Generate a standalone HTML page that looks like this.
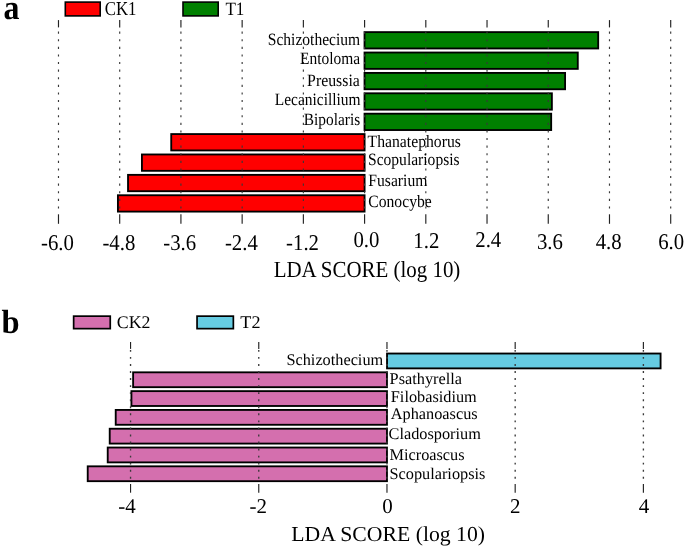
<!DOCTYPE html>
<html><head><meta charset="utf-8"><title>LDA score</title>
<style>
html,body{margin:0;padding:0;background:#fff;}
body{width:685px;height:547px;overflow:hidden;}
svg{display:block;font-family:"Liberation Serif",serif;will-change:transform;text-rendering:geometricPrecision;}
text{font-kerning:normal;}
</style></head><body>
<svg width="685" height="547" viewBox="0 0 685 547">
<rect x="0" y="0" width="685" height="547" fill="#fff"/>
<rect x="65.30" y="2.10" width="34.90" height="13.80" fill="#ff0000" stroke="#000" stroke-width="1.6"/>
<rect x="183.00" y="2.10" width="35.20" height="13.80" fill="#008000" stroke="#000" stroke-width="1.6"/>
<text transform="translate(104.70,15.20) scale(0.855,1.0)" font-size="19.7" text-anchor="start" font-weight="normal" fill="#000">CK1</text>
<text transform="translate(225.40,14.55) scale(0.91,1.0)" font-size="18.8" text-anchor="start" font-weight="normal" fill="#000">T1</text>
<text transform="translate(3.50,19.30) scale(0.925,1.0)" font-size="34.5" text-anchor="start" font-weight="bold" fill="#000">a</text>
<rect x="364.53" y="32.12" width="233.65" height="16.35" fill="#008000" stroke="#000" stroke-width="1.85"/>
<rect x="364.53" y="52.52" width="213.25" height="16.35" fill="#008000" stroke="#000" stroke-width="1.85"/>
<rect x="364.53" y="72.91" width="200.55" height="16.35" fill="#008000" stroke="#000" stroke-width="1.85"/>
<rect x="364.53" y="93.30" width="187.35" height="16.35" fill="#008000" stroke="#000" stroke-width="1.85"/>
<rect x="364.53" y="113.69" width="186.65" height="16.35" fill="#008000" stroke="#000" stroke-width="1.85"/>
<rect x="171.23" y="134.08" width="193.35" height="16.35" fill="#ff0000" stroke="#000" stroke-width="1.85"/>
<rect x="141.93" y="154.47" width="222.65" height="16.35" fill="#ff0000" stroke="#000" stroke-width="1.85"/>
<rect x="128.03" y="174.86" width="236.55" height="16.35" fill="#ff0000" stroke="#000" stroke-width="1.85"/>
<rect x="117.92" y="195.25" width="246.65" height="16.35" fill="#ff0000" stroke="#000" stroke-width="1.85"/>
<line x1="58.48" y1="20.10" x2="58.48" y2="27.40" stroke="#222" stroke-width="1.15"/>
<line x1="58.48" y1="31.60" x2="58.48" y2="213.00" stroke="#383838" stroke-width="1.15" stroke-dasharray="2.1 5.5" stroke-dashoffset="0"/>
<line x1="58.48" y1="214.30" x2="58.48" y2="223.80" stroke="#222" stroke-width="1.15"/>
<line x1="119.70" y1="20.10" x2="119.70" y2="27.40" stroke="#222" stroke-width="1.15"/>
<line x1="119.70" y1="31.60" x2="119.70" y2="213.00" stroke="#383838" stroke-width="1.15" stroke-dasharray="2.1 5.5" stroke-dashoffset="0"/>
<line x1="119.70" y1="214.30" x2="119.70" y2="223.80" stroke="#222" stroke-width="1.15"/>
<line x1="180.92" y1="20.10" x2="180.92" y2="27.40" stroke="#222" stroke-width="1.15"/>
<line x1="180.92" y1="31.60" x2="180.92" y2="213.00" stroke="#383838" stroke-width="1.15" stroke-dasharray="2.1 5.5" stroke-dashoffset="0"/>
<line x1="180.92" y1="214.30" x2="180.92" y2="223.80" stroke="#222" stroke-width="1.15"/>
<line x1="242.15" y1="20.10" x2="242.15" y2="27.40" stroke="#222" stroke-width="1.15"/>
<line x1="242.15" y1="31.60" x2="242.15" y2="213.00" stroke="#383838" stroke-width="1.15" stroke-dasharray="2.1 5.5" stroke-dashoffset="0"/>
<line x1="242.15" y1="214.30" x2="242.15" y2="223.80" stroke="#222" stroke-width="1.15"/>
<line x1="303.37" y1="20.10" x2="303.37" y2="27.40" stroke="#222" stroke-width="1.15"/>
<line x1="303.37" y1="31.60" x2="303.37" y2="213.00" stroke="#383838" stroke-width="1.15" stroke-dasharray="2.1 5.5" stroke-dashoffset="0"/>
<line x1="303.37" y1="214.30" x2="303.37" y2="223.80" stroke="#222" stroke-width="1.15"/>
<line x1="364.59" y1="20.10" x2="364.59" y2="27.40" stroke="#222" stroke-width="1.15"/>
<line x1="364.59" y1="31.60" x2="364.59" y2="213.00" stroke="#383838" stroke-width="1.15" stroke-dasharray="2.1 5.5" stroke-dashoffset="0"/>
<line x1="364.59" y1="214.30" x2="364.59" y2="223.80" stroke="#222" stroke-width="1.15"/>
<line x1="425.81" y1="20.10" x2="425.81" y2="27.40" stroke="#222" stroke-width="1.15"/>
<line x1="425.81" y1="31.60" x2="425.81" y2="213.00" stroke="#383838" stroke-width="1.15" stroke-dasharray="2.1 5.5" stroke-dashoffset="0"/>
<line x1="425.81" y1="214.30" x2="425.81" y2="223.80" stroke="#222" stroke-width="1.15"/>
<line x1="487.03" y1="20.10" x2="487.03" y2="27.40" stroke="#222" stroke-width="1.15"/>
<line x1="487.03" y1="31.60" x2="487.03" y2="213.00" stroke="#383838" stroke-width="1.15" stroke-dasharray="2.1 5.5" stroke-dashoffset="0"/>
<line x1="487.03" y1="214.30" x2="487.03" y2="223.80" stroke="#222" stroke-width="1.15"/>
<line x1="548.26" y1="20.10" x2="548.26" y2="27.40" stroke="#222" stroke-width="1.15"/>
<line x1="548.26" y1="31.60" x2="548.26" y2="213.00" stroke="#383838" stroke-width="1.15" stroke-dasharray="2.1 5.5" stroke-dashoffset="0"/>
<line x1="548.26" y1="214.30" x2="548.26" y2="223.80" stroke="#222" stroke-width="1.15"/>
<line x1="609.48" y1="20.10" x2="609.48" y2="27.40" stroke="#222" stroke-width="1.15"/>
<line x1="609.48" y1="31.60" x2="609.48" y2="213.00" stroke="#383838" stroke-width="1.15" stroke-dasharray="2.1 5.5" stroke-dashoffset="0"/>
<line x1="609.48" y1="214.30" x2="609.48" y2="223.80" stroke="#222" stroke-width="1.15"/>
<line x1="670.70" y1="20.10" x2="670.70" y2="27.40" stroke="#222" stroke-width="1.15"/>
<line x1="670.70" y1="31.60" x2="670.70" y2="213.00" stroke="#383838" stroke-width="1.15" stroke-dasharray="2.1 5.5" stroke-dashoffset="0"/>
<line x1="670.70" y1="214.30" x2="670.70" y2="223.80" stroke="#222" stroke-width="1.15"/>
<text transform="translate(360.20,44.50) scale(0.9,1.0)" font-size="17.3" text-anchor="end" font-weight="normal" fill="#000">Schizothecium</text>
<text transform="translate(360.20,63.80) scale(0.895,1.0)" font-size="17.3" text-anchor="end" font-weight="normal" fill="#000">Entoloma</text>
<text transform="translate(359.80,85.50) scale(0.915,1.0)" font-size="17.3" text-anchor="end" font-weight="normal" fill="#000">Preussia</text>
<text transform="translate(360.60,104.70) scale(0.895,1.0)" font-size="17.3" text-anchor="end" font-weight="normal" fill="#000">Lecanicillium</text>
<text transform="translate(360.20,125.30) scale(0.89,1.0)" font-size="17.3" text-anchor="end" font-weight="normal" fill="#000">Bipolaris</text>
<text transform="translate(367.60,147.20) scale(0.908,1.0)" font-size="17.3" text-anchor="start" font-weight="normal" fill="#000">Thanatephorus</text>
<text transform="translate(368.00,164.60) scale(0.9,1.0)" font-size="17.3" text-anchor="start" font-weight="normal" fill="#000">Scopulariopsis</text>
<text transform="translate(368.30,186.30) scale(0.905,1.0)" font-size="17.3" text-anchor="start" font-weight="normal" fill="#000">Fusarium</text>
<text transform="translate(368.30,206.50) scale(0.905,1.0)" font-size="17.3" text-anchor="start" font-weight="normal" fill="#000">Conocybe</text>
<text transform="translate(57.48,249.50) scale(0.92,1.0)" font-size="22.6" text-anchor="middle" font-weight="normal" fill="#000">-6.0</text>
<text transform="translate(118.90,249.50) scale(0.92,1.0)" font-size="22.6" text-anchor="middle" font-weight="normal" fill="#000">-4.8</text>
<text transform="translate(179.72,249.50) scale(0.92,1.0)" font-size="22.6" text-anchor="middle" font-weight="normal" fill="#000">-3.6</text>
<text transform="translate(241.35,249.50) scale(0.92,1.0)" font-size="22.6" text-anchor="middle" font-weight="normal" fill="#000">-2.4</text>
<text transform="translate(302.57,249.50) scale(0.92,1.0)" font-size="22.6" text-anchor="middle" font-weight="normal" fill="#000">-1.2</text>
<text transform="translate(366.39,247.10) scale(0.92,1.0)" font-size="22.6" text-anchor="middle" font-weight="normal" fill="#000">0.0</text>
<text transform="translate(426.31,247.90) scale(0.92,1.0)" font-size="22.6" text-anchor="middle" font-weight="normal" fill="#000">1.2</text>
<text transform="translate(488.23,246.70) scale(0.92,1.0)" font-size="22.6" text-anchor="middle" font-weight="normal" fill="#000">2.4</text>
<text transform="translate(549.96,248.70) scale(0.92,1.0)" font-size="22.6" text-anchor="middle" font-weight="normal" fill="#000">3.6</text>
<text transform="translate(608.68,248.70) scale(0.92,1.0)" font-size="22.6" text-anchor="middle" font-weight="normal" fill="#000">4.8</text>
<text transform="translate(671.20,248.70) scale(0.92,1.0)" font-size="22.6" text-anchor="middle" font-weight="normal" fill="#000">6.0</text>
<text transform="translate(367.00,277.00) scale(0.91,1.0)" font-size="23" text-anchor="middle" font-weight="normal" fill="#000">LDA SCORE (log 10)</text>
<rect x="73.65" y="316.15" width="36.60" height="12.50" fill="#d46fae" stroke="#000" stroke-width="1.7"/>
<rect x="197.05" y="316.15" width="36.30" height="12.50" fill="#66cce2" stroke="#000" stroke-width="1.7"/>
<text transform="translate(116.80,327.50) scale(1.0,1.0)" font-size="17.8" text-anchor="start" font-weight="normal" fill="#000">CK2</text>
<text transform="translate(240.30,327.60) scale(1.02,1.0)" font-size="17.8" text-anchor="start" font-weight="normal" fill="#000">T2</text>
<text transform="translate(1.40,333.00) scale(0.969,1.0)" font-size="33.6" text-anchor="start" font-weight="bold" fill="#000">b</text>
<rect x="387.03" y="353.53" width="273.55" height="14.85" fill="#66cce2" stroke="#000" stroke-width="1.85"/>
<rect x="133.12" y="372.33" width="253.85" height="14.85" fill="#d46fae" stroke="#000" stroke-width="1.85"/>
<rect x="131.43" y="391.13" width="255.55" height="14.85" fill="#d46fae" stroke="#000" stroke-width="1.85"/>
<rect x="115.72" y="409.93" width="271.25" height="14.85" fill="#d46fae" stroke="#000" stroke-width="1.85"/>
<rect x="109.72" y="428.73" width="277.25" height="14.85" fill="#d46fae" stroke="#000" stroke-width="1.85"/>
<rect x="107.72" y="447.53" width="279.25" height="14.85" fill="#d46fae" stroke="#000" stroke-width="1.85"/>
<rect x="87.72" y="466.33" width="299.25" height="14.85" fill="#d46fae" stroke="#000" stroke-width="1.85"/>
<line x1="130.55" y1="342.00" x2="130.55" y2="348.90" stroke="#222" stroke-width="1.15"/>
<line x1="130.55" y1="349.90" x2="130.55" y2="482.00" stroke="#3a3a3a" stroke-width="1.35" stroke-dasharray="1.9 5.15" stroke-dashoffset="0"/>
<line x1="130.55" y1="484.00" x2="130.55" y2="492.70" stroke="#222" stroke-width="1.15"/>
<line x1="258.76" y1="342.00" x2="258.76" y2="348.90" stroke="#222" stroke-width="1.15"/>
<line x1="258.76" y1="349.90" x2="258.76" y2="482.00" stroke="#3a3a3a" stroke-width="1.35" stroke-dasharray="1.9 5.15" stroke-dashoffset="0"/>
<line x1="258.76" y1="484.00" x2="258.76" y2="492.70" stroke="#222" stroke-width="1.15"/>
<line x1="386.97" y1="342.00" x2="386.97" y2="348.90" stroke="#222" stroke-width="1.15"/>
<line x1="386.97" y1="349.90" x2="386.97" y2="482.00" stroke="#3a3a3a" stroke-width="1.35" stroke-dasharray="1.9 5.15" stroke-dashoffset="0"/>
<line x1="386.97" y1="484.00" x2="386.97" y2="492.70" stroke="#222" stroke-width="1.15"/>
<line x1="515.18" y1="342.00" x2="515.18" y2="348.90" stroke="#222" stroke-width="1.15"/>
<line x1="515.18" y1="349.90" x2="515.18" y2="482.00" stroke="#3a3a3a" stroke-width="1.35" stroke-dasharray="1.9 5.15" stroke-dashoffset="0"/>
<line x1="515.18" y1="484.00" x2="515.18" y2="492.70" stroke="#222" stroke-width="1.15"/>
<line x1="643.39" y1="342.00" x2="643.39" y2="348.90" stroke="#222" stroke-width="1.15"/>
<line x1="643.39" y1="349.90" x2="643.39" y2="482.00" stroke="#3a3a3a" stroke-width="1.35" stroke-dasharray="1.9 5.15" stroke-dashoffset="0"/>
<line x1="643.39" y1="484.00" x2="643.39" y2="492.70" stroke="#222" stroke-width="1.15"/>
<text transform="translate(383.20,365.10) scale(1.0,1.0)" font-size="16.3" text-anchor="end" font-weight="normal" fill="#000">Schizothecium</text>
<text transform="translate(389.60,383.60) scale(1.0,1.0)" font-size="16.3" text-anchor="start" font-weight="normal" fill="#000">Psathyrella</text>
<text transform="translate(390.80,401.70) scale(1.0,1.0)" font-size="16.3" text-anchor="start" font-weight="normal" fill="#000">Filobasidium</text>
<text transform="translate(390.80,418.70) scale(1.0,1.0)" font-size="16.3" text-anchor="start" font-weight="normal" fill="#000">Aphanoascus</text>
<text transform="translate(388.60,438.60) scale(1.0,1.0)" font-size="16.3" text-anchor="start" font-weight="normal" fill="#000">Cladosporium</text>
<text transform="translate(389.50,459.50) scale(1.0,1.0)" font-size="16.3" text-anchor="start" font-weight="normal" fill="#000">Microascus</text>
<text transform="translate(389.50,478.70) scale(1.0,1.0)" font-size="16.3" text-anchor="start" font-weight="normal" fill="#000">Scopulariopsis</text>
<text transform="translate(126.95,513.30) scale(1.0,1.0)" font-size="21" text-anchor="middle" font-weight="normal" fill="#000">-4</text>
<text transform="translate(258.36,513.40) scale(1.0,1.0)" font-size="21" text-anchor="middle" font-weight="normal" fill="#000">-2</text>
<text transform="translate(387.57,513.00) scale(1.0,1.0)" font-size="21" text-anchor="middle" font-weight="normal" fill="#000">0</text>
<text transform="translate(515.18,513.00) scale(1.0,1.0)" font-size="21" text-anchor="middle" font-weight="normal" fill="#000">2</text>
<text transform="translate(643.99,513.00) scale(1.0,1.0)" font-size="21" text-anchor="middle" font-weight="normal" fill="#000">4</text>
<text transform="translate(388.20,540.60) scale(1.02,1.0)" font-size="21.3" text-anchor="middle" font-weight="normal" fill="#000">LDA SCORE (log 10)</text>
</svg>
</body></html>
